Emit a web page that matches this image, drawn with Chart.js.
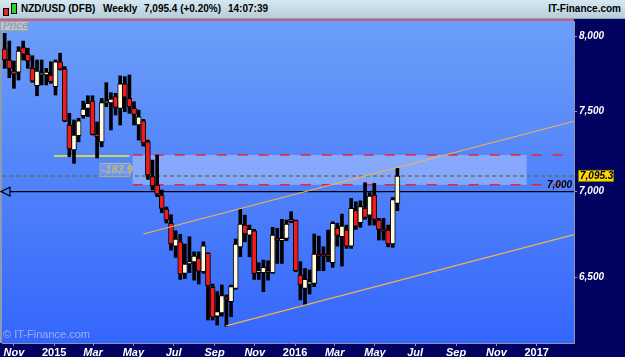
<!DOCTYPE html>
<html>
<head>
<meta charset="utf-8">
<script src="https://cdn.jsdelivr.net/npm/chart.js@4.4.1/dist/chart.umd.min.js"></script>
<style>
  html, body { margin: 0; padding: 0; background: #020260; }
  #wrap { position: relative; width: 625px; height: 357px; overflow: hidden; }
  #c { position: absolute; left: 0; top: 0; }
  #head {
    position: absolute; left: 0; top: 0; width: 625px; height: 18px;
    background: linear-gradient(#d6e7ef, #b6cfdb);
    border-bottom: 1px solid #8aa3b0;
    font: bold 10px "Liberation Sans", Arial, sans-serif; color: #000;
  }
  #head span { position: absolute; top: 3px; white-space: nowrap; }
  .ic { position: absolute; border: 1px solid #000; }
</style>
</head>
<body>
<div id="wrap">
  <canvas id="c" width="625" height="357"></canvas>
  <div id="head">
    <div class="ic" style="left:3px;top:8px;width:4px;height:6px;background:#f02020"></div>
    <div class="ic" style="left:11px;top:3px;width:4px;height:9px;background:#30d030"></div>
    <span style="left:21px">NZD/USD (DFB)</span>
    <span style="left:103px">Weekly</span>
    <span style="left:144px">7,095.4 (+0.20%)</span>
    <span style="left:228px">14:07:39</span>
    <span style="right:4px">IT-Finance.com</span>
  </div>
</div>
<script>
// weekly candles, first one is the week of 18 Oct 2014
const firstWeek = '2014-10-18';

const opens = [7916,7841,7767,7759,7925,7880,7785,7669,7740,7740,
  7740,7663,7829,7780,7414,7256,7346,7474,7521,7568,
  7356,7307,7556,7556,7597,7521,7681,7586,7521,7414,
  7441,7307,7091,7040,6980,6896,6812,6679,6704,6524,
  6577,6588,6609,6533,6637,6446,6288,6306,6392,6367,
  6440,6675,6801,6743,6768,6528,6528,6539,6528,6724,
  6710,6724,6835,6827,6514,6440,6464,6468,6633,6633,
  6625,6584,6782,6733,6772,6679,6886,6815,6900,6860,
  6980,6831,6772,6772,6691,6930];
const highs = [8023,7970,7834,7931,7970,7921,7870,7841,7841,7785,
  7829,7841,7887,7796,7489,7446,7457,7568,7603,7603,
  7433,7586,7689,7623,7619,7734,7729,7740,7564,7510,
  7450,7318,7193,7224,7010,6908,6862,6768,6747,6691,
  6733,6646,6646,6704,6641,6464,6422,6459,6404,6459,
  6720,6894,6860,6801,6776,6584,6599,6595,6788,6782,
  6835,6831,6880,6831,6590,6552,6543,6749,6737,6675,
  6772,6821,6812,6866,6801,6959,6939,6945,7054,6994,
  7050,6841,6841,6801,6965,7142];
const lows = [7785,7722,7652,7707,7841,7785,7692,7603,7674,7674,
  7685,7608,7774,7435,7214,7173,7307,7457,7467,7350,
  7206,7276,7532,7382,7478,7414,7499,7489,7414,7318,
  7280,7074,7010,6970,6874,6813,6656,6614,6490,6495,
  6528,6486,6464,6524,6267,6267,6240,6288,6232,6285,
  6435,6618,6704,6618,6490,6490,6422,6486,6524,6580,
  6580,6710,6815,6533,6376,6349,6409,6450,6539,6539,
  6590,6558,6679,6565,6666,6666,6776,6788,6835,6801,
  6801,6714,6714,6675,6672,6886];
const closes = [7841,7785,7745,7902,7880,7834,7700,7767,7747,7759,
  7696,7829,7780,7440,7262,7350,7440,7516,7554,7354,
  7340,7558,7562,7582,7527,7681,7593,7532,7482,7467,
  7301,7101,7034,6985,6900,6831,6691,6720,6520,6577,
  6590,6622,6537,6681,6455,6282,6312,6400,6381,6450,
  6691,6807,6749,6776,6524,6539,6558,6528,6743,6714,
  6724,6807,6821,6539,6459,6490,6477,6633,6622,6622,
  6619,6812,6743,6795,6679,6900,6795,6910,6846,6973,
  6835,6776,6766,6691,6953,7095.3];

// axis ticks
const tickDates = ['2014-11-01','2015-01-01','2015-03-01','2015-05-01','2015-07-01','2015-09-01','2015-11-01',
  '2016-01-01','2016-03-01','2016-05-01','2016-07-01','2016-09-01','2016-11-01','2017-01-01'];
const tickLabels = ['Nov','2015','Mar','May','Jul','Sep','Nov','2016','Mar','May','Jul','Sep','Nov','2017'];
const priceTicks = [6500, 7000, 7500, 8000];

// drawings (week index / price)
const zoneWeeks = [27.7, 113.0];
const zonePrices = [7041.1, 7225];
const supportLevel = 7000;
const yellowWeeks = [10.7, 27.0];
const yellowLevel = 7218;
const upperChannel = [{x: 30.0, y: 6749}, {x: 123.23, y: 7438}];
const lowerChannel = [{x: 47.9, y: 6235}, {x: 123.23, y: 6746}];

const lastPrice = closes[closes.length - 1];
const weekOf = d => (Date.parse(d) - Date.parse(firstWeek)) / (7 * 864e5);
const tickPos = tickDates.map(weekOf);
const fmt = (v, d) => v.toLocaleString('en-US', {minimumFractionDigits: d, maximumFractionDigits: d});

const wicks = lows.map((l, i) => ({x: i, y: [l, highs[i]]}));
const bodies = opens.map((o, i) => ({x: i, y: [Math.min(o, closes[i]), Math.max(o, closes[i])]}));
const bodyColors = opens.map((o, i) => closes[i] >= o ? '#fffadc' : '#ee1c1c');

const overlay = {
  id: 'overlay',
  beforeDraw(chart) {
    const {ctx, chartArea: a, width, height} = chart;
    ctx.save();
    ctx.fillStyle = '#020260';
    ctx.fillRect(0, 0, width, height);
    const g = ctx.createLinearGradient(0, a.top, 0, a.bottom);
    g.addColorStop(0, '#6c9ef9');
    g.addColorStop(1, '#3466fc');
    ctx.fillStyle = g;
    ctx.fillRect(a.left, a.top, a.right - a.left, a.bottom - a.top);
    ctx.fillStyle = '#8b9bb4';
    ctx.fillRect(0, a.top, a.left, a.bottom - a.top);
    ctx.fillStyle = '#cc5a8a';
    ctx.fillRect(0, a.top - 2, a.right, 2);
    ctx.restore();
  },
  beforeDatasetsDraw(chart) {
    const {ctx, chartArea: a, scales: {x, y}} = chart;
    ctx.save();
    // zone box
    const zx0 = x.getPixelForValue(zoneWeeks[0]), zx1 = x.getPixelForValue(zoneWeeks[1]);
    const zyTop = y.getPixelForValue(zonePrices[1]), zyBot = y.getPixelForValue(zonePrices[0]);
    ctx.fillStyle = 'rgba(205,220,255,0.42)';
    ctx.fillRect(zx0, zyTop, zx1 - zx0, zyBot - zyTop);
    ctx.strokeStyle = '#e0283c';
    ctx.lineWidth = 1.5;
    ctx.setLineDash([10, 11]);
    ctx.beginPath();
    ctx.moveTo(zx0, zyTop); ctx.lineTo(a.right, zyTop);
    ctx.moveTo(zx0, zyBot); ctx.lineTo(a.right, zyBot);
    ctx.stroke();
    // last price dashed
    const ly = y.getPixelForValue(lastPrice);
    ctx.strokeStyle = 'rgba(95,110,85,0.9)';
    ctx.setLineDash([4, 3]);
    ctx.beginPath();
    ctx.moveTo(a.left, ly); ctx.lineTo(a.right, ly);
    ctx.stroke();
    ctx.setLineDash([]);
    // support 7000 line with arrow
    const sy = y.getPixelForValue(supportLevel);
    ctx.strokeStyle = '#000';
    ctx.lineWidth = 1.2;
    ctx.beginPath();
    ctx.moveTo(a.left + 8, sy); ctx.lineTo(a.right, sy);
    ctx.stroke();
    ctx.beginPath();
    ctx.moveTo(a.left - 1, sy); ctx.lineTo(a.left + 8, sy - 4.5); ctx.lineTo(a.left + 8, sy + 4.5); ctx.closePath();
    ctx.stroke();
    // yellow level
    const yy = y.getPixelForValue(yellowLevel);
    ctx.strokeStyle = '#f4f020';
    ctx.lineWidth = 1.5;
    ctx.beginPath();
    ctx.moveTo(x.getPixelForValue(yellowWeeks[0]), yy);
    ctx.lineTo(x.getPixelForValue(yellowWeeks[1]), yy);
    ctx.stroke();
    // zone size label
    const my = (zyTop + zyBot) / 2;
    ctx.font = 'italic bold 11px "Liberation Sans", Arial';
    ctx.strokeStyle = 'rgba(200,190,120,0.85)';
    ctx.lineWidth = 1;
    ctx.fillStyle = 'rgba(170,190,240,0.35)';
    ctx.fillRect(zx0 - 32, my - 7, 30, 13);
    ctx.strokeRect(zx0 - 32.5, my - 6.5, 30, 13);
    ctx.fillStyle = 'rgba(200,185,110,0.95)';
    ctx.textBaseline = 'middle';
    ctx.fillText(fmt(zonePrices[0] - zonePrices[1], 1), zx0 - 31, my);
    ctx.restore();
  },
  afterDraw(chart) {
    const {ctx, chartArea: a, scales: {y}} = chart;
    ctx.save();
    ctx.textBaseline = 'middle';
    // 7,000 label on line
    const sy = y.getPixelForValue(supportLevel);
    ctx.font = 'italic bold 10px "Liberation Sans", Arial';
    ctx.fillStyle = '#000';
    ctx.textAlign = 'right';
    ctx.fillText(fmt(supportLevel, 0), a.right - 2, sy - 6);
    // last price tag
    const ly = y.getPixelForValue(lastPrice);
    ctx.fillStyle = '#f7d80a';
    ctx.fillRect(a.right + 4, ly - 6, 36, 12);
    ctx.strokeStyle = '#8c7a00';
    ctx.lineWidth = 1;
    ctx.strokeRect(a.right + 4.5, ly - 5.5, 35, 11);
    ctx.fillStyle = '#000';
    ctx.textAlign = 'left';
    ctx.fillText(fmt(lastPrice, 1), a.right + 6, ly + 0.5);
    // Price box
    ctx.fillStyle = 'rgba(192,200,206,0.92)';
    ctx.fillRect(0, a.top, 28, 10);
    ctx.strokeStyle = '#9aa4ad';
    ctx.strokeRect(0.5, a.top + 0.5, 27, 9);
    ctx.fillStyle = '#979ea5';
    ctx.font = 'italic bold 10px "Liberation Sans", Arial';
    ctx.fillText('Price', 3, a.top + 5.5);
    // watermark
    ctx.fillStyle = 'rgba(195,205,235,0.7)';
    ctx.font = '11px "Liberation Sans", Arial';
    ctx.fillText('\u00a9 IT-Finance.com', 3, a.bottom - 8);
    ctx.restore();
  }
};

new Chart(document.getElementById('c'), {
  type: 'bar',
  data: {
    datasets: [
      {type: 'line', data: upperChannel, borderColor: '#f2b44a', borderWidth: 1.2, pointRadius: 0, order: 0},
      {type: 'line', data: lowerChannel, borderColor: '#f2b44a', borderWidth: 1.2, pointRadius: 0, order: 0},
      {data: bodies, backgroundColor: bodyColors, borderColor: '#000', borderWidth: 1, borderSkipped: false,
        barThickness: 5, minBarLength: 2, grouped: false, order: 1},
      {data: wicks, backgroundColor: '#000', borderWidth: 0, barThickness: 3, grouped: false, order: 2}
    ]
  },
  options: {
    responsive: false,
    animation: false,
    layout: {padding: {left: 2, top: 21, right: 0, bottom: 0}},
    plugins: {legend: {display: false}, tooltip: {enabled: false}},
    scales: {
      x: {
        type: 'linear', min: -0.58, max: 123.23, offset: false,
        afterBuildTicks: s => { s.ticks = tickPos.map(v => ({value: v})); },
        afterFit: s => { s.height = 14; },
        ticks: {
          autoSkip: false, maxRotation: 0, padding: 0, color: '#fff',
          font: c => ({family: '"Liberation Sans", Arial', size: 11, weight: 'bold',
            style: /^\d/.test(tickLabels[c.index] || '') ? 'normal' : 'italic'}),
          callback: (v, i) => tickLabels[i]
        },
        grid: {drawOnChartArea: false, offset: false, tickLength: 3, color: '#8a96b0'},
        border: {color: '#8a96b0'}
      },
      y: {
        type: 'logarithmic', position: 'right', min: 6144, max: 8109,
        afterBuildTicks: s => { s.ticks = priceTicks.map(v => ({value: v})); },
        afterFit: s => { s.width = 51; },
        ticks: {
          padding: 2, color: '#fff',
          font: {family: '"Liberation Sans", Arial', size: 10, weight: 'bold', style: 'italic'},
          callback: v => fmt(v, 0)
        },
        grid: {drawOnChartArea: false, tickLength: 3, color: '#8a96b0'},
        border: {color: '#8a96b0'}
      }
    }
  },
  plugins: [overlay]
});
</script>
</body>
</html>
